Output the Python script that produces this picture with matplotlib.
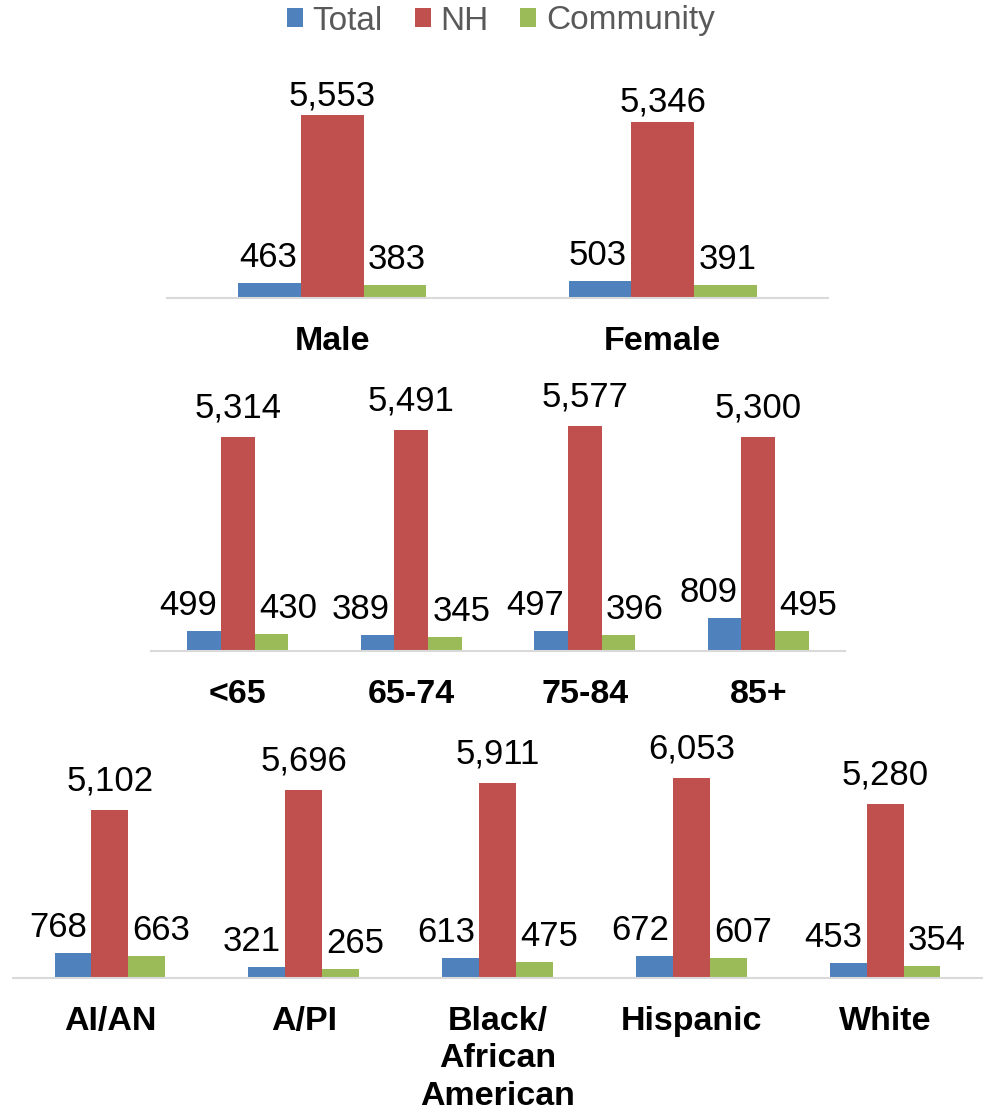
import numpy as np
import matplotlib.pyplot as plt
from matplotlib.patches import Patch

plt.rcParams['font.family'] = ['Liberation Sans', 'DejaVu Sans']

series = ['Total', 'NH', 'Community']
colors = ['#4F81BD', '#C0504D', '#9BBB59']

sex_cats = ['Male', 'Female']
sex_total = [463, 503]
sex_nh = [5553, 5346]
sex_comm = [383, 391]

age_cats = ['<65', '65-74', '75-84', '85+']
age_total = [499, 389, 497, 809]
age_nh = [5314, 5491, 5577, 5300]
age_comm = [430, 345, 396, 495]

race_cats = ['AI/AN', 'A/PI', 'Black/\nAfrican\nAmerican', 'Hispanic', 'White']
race_total = [768, 321, 613, 672, 453]
race_nh = [5102, 5696, 5911, 6053, 5280]
race_comm = [663, 265, 475, 607, 354]

W, H = 986, 1112
fig = plt.figure(figsize=(W / 100, H / 100), dpi=100)


def panel(left, right, base, ppu, cats, vals, width, mid_dy):
    ymax = 6500
    hpx = ymax * ppu
    ax = fig.add_axes([left / W, (H - base) / H, (right - left) / W, hpx / H])
    ax.patch.set_visible(False)
    n = len(cats)
    x = np.arange(n)
    for k, v in enumerate(vals):
        xs = x + (k - 1) * width
        ax.bar(xs, v, width, color=colors[k], zorder=2)
        for xi, vi in zip(xs, v):
            # side bars: labels pushed outward so they clear the tall middle bar
            if k == 0:
                xx, ha, dx, dy = xi + width / 2, 'right', -3, 11.5
            elif k == 2:
                xx, ha, dx, dy = xi - width / 2, 'left', 3, 11.5
            else:
                xx, ha, dx, dy = xi, 'center', 0, mid_dy
            ax.annotate(f'{vi:,}', (xx, vi), xytext=(dx, dy), textcoords='offset points',
                        ha=ha, va='baseline', fontsize=25, color='black',
                        annotation_clip=False)
    ax.set_xlim(-0.5, n - 0.5)
    ax.set_ylim(0, ymax)
    for s in ['top', 'left', 'right']:
        ax.spines[s].set_visible(False)
    ax.spines['bottom'].set_color('#d9d9d9')
    ax.spines['bottom'].set_linewidth(1.5)
    ax.set_yticks([])
    ax.set_xticks(x)
    ax.set_xticklabels(cats, fontsize=24.5, fontweight='bold', va='top', linespacing=1.28)
    ax.tick_params(axis='x', length=0, pad=20)
    return ax


panel(167, 828, 298, 0.033, sex_cats, [sex_total, sex_nh, sex_comm], 0.19, 7)
panel(151, 845, 651, 0.0403, age_cats, [age_total, age_nh, age_comm], 0.195, 14)
panel(13, 982, 978, 0.033, race_cats, [race_total, race_nh, race_comm], 0.19, 14)

handles = [Patch(facecolor=c, label=s) for c, s in zip(colors, series)]
leg = fig.legend(handles=handles, loc='center', bbox_to_anchor=(501 / W, 1 - 21 / H),
                 ncol=3, frameon=False, fontsize=24, handlelength=0.48, handleheight=0.48,
                 handletextpad=0.3, columnspacing=0.95)
for t in leg.get_texts():
    t.set_color('#595959')

fig.savefig('out.png', dpi=100)
